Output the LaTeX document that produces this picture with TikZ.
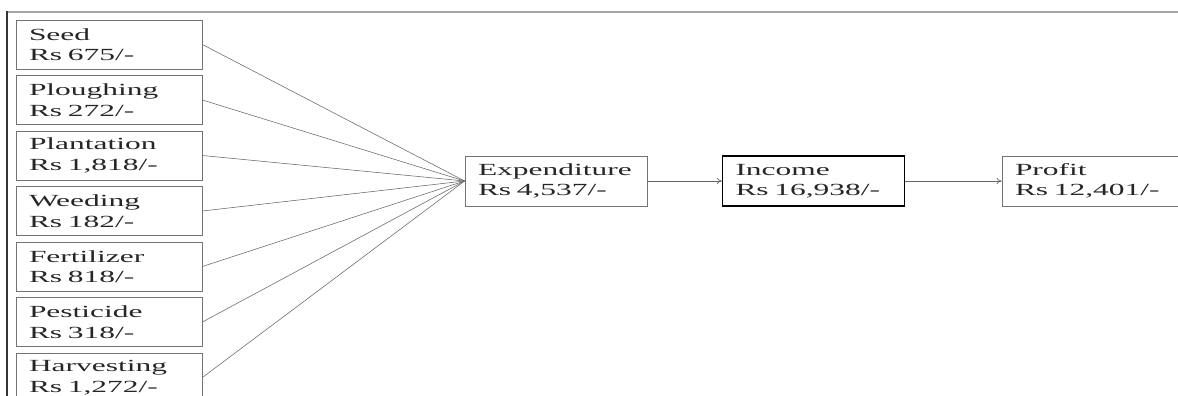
\documentclass[tikz,border=0pt]{standalone}
\usepackage{fontspec}
\setmainfont{Liberation Serif}[FakeStretch=1.85]
\usetikzlibrary{arrows.meta,positioning}

\begin{document}
\begin{tikzpicture}[
  x=1pt, y=1pt,
  font=\fontsize{17}{20.5}\selectfont,
  cost/.style={draw=black!55, thick, align=left, text width=160pt, minimum width=186pt,
    minimum height=49pt, inner xsep=13pt, inner ysep=2pt, text=black!85},
  stage/.style={cost, text width=156pt, minimum width=182pt, minimum height=50pt},
  feed/.style={draw=black!60, line width=0.55pt},
  arrow/.style={-{To[length=5pt,width=6pt]}, line width=0.6pt, draw=black!60}
]
\useasboundingbox (0,0) rectangle (1178,396);

\draw[line width=2pt, draw=black!35] (7,384) -- (1178,384);
\draw[line width=1.5pt, draw=black!80] (7,0) -- (7,385);

\node[cost] (seed) at (109,351.5) {Seed\\Rs 675/-};
\node[cost, below=5.7pt of seed] (plough) {Ploughing\\Rs 272/-};
\node[cost, below=5.7pt of plough] (plant) {Plantation\\Rs 1,818/-};
\node[cost, below=5.7pt of plant] (weed) {Weeding\\Rs 182/-};
\node[cost, below=5.7pt of weed] (fert) {Fertilizer\\Rs 818/-};
\node[cost, below=5.7pt of fert] (pest) {Pesticide\\Rs 318/-};
\node[cost, below=5.7pt of pest] (harvest) {Harvesting\\Rs 1,272/-};

\node[stage] (expend) at (556,215) {Expenditure\\Rs 4,537/-};
\node[stage, draw=black, line width=1.2pt] (income) at (813.5,215) {Income\\Rs 16,938/-};
\node[stage] (profit) at (1093,215) {Profit\\Rs 12,401/-};

\foreach \n in {seed,plough,plant,weed,fert,pest,harvest}
  \draw[feed] (\n.east) -- (expend.west);

\draw[arrow] (expend) -- (income);
\draw[arrow] (income) -- (profit);

\end{tikzpicture}
\end{document}
